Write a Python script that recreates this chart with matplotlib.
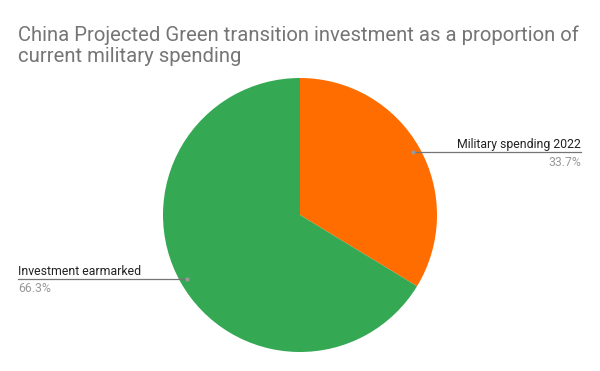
import matplotlib.pyplot as plt

TITLE = "China Projected Green transition investment as a proportion of\ncurrent military spending"
LABELS = ["Military spending 2022", "Investment earmarked"]
SHARES = [33.7, 66.3]
COLORS = ["#ff6d01", "#34a853"]

W, H = 600, 371
plt.rcParams["font.family"] = ["Roboto", "DejaVu Sans"]

fig = plt.figure(figsize=(W / 100, H / 100), dpi=100)

# pie: center (300, 215) px, radius 137 px
cx, cy, r = 300, 215, 137
ax = fig.add_axes([(cx - r) / W, (H - cy - r) / H, 2 * r / W, 2 * r / H])
ax.pie(SHARES, colors=COLORS, startangle=90, counterclock=False,
       wedgeprops=dict(linewidth=0))
ax.set_xlim(-1, 1)
ax.set_ylim(-1, 1)
ax.set_aspect("equal")


def fx(px):
    return px / W


def fy(py):
    return 1 - py / H


fig.text(fx(18), fy(62), TITLE, fontsize=14.6, color="#757575",
         ha="left", va="baseline", linespacing=1.15)

# label callouts (dot on slice, line to text)
line_gray = "#757575"
# right: Military spending
fig.add_artist(plt.Line2D([fx(413), fx(581)], [fy(152), fy(152)],
                          color=line_gray, linewidth=0.9))
fig.add_artist(plt.Line2D([fx(413)], [fy(152)], marker="o", markersize=3,
                          color="#999999", markeredgewidth=0))
fig.text(fx(581), fy(148), LABELS[0], fontsize=8.8, color="#222222",
         ha="right", va="baseline")
fig.text(fx(581), fy(166), f"{SHARES[0]}%", fontsize=8.8, color="#999999",
         ha="right", va="baseline")

# left: Investment earmarked
fig.add_artist(plt.Line2D([fx(18), fx(187)], [fy(279), fy(279)],
                          color=line_gray, linewidth=0.9))
fig.add_artist(plt.Line2D([fx(187)], [fy(279)], marker="o", markersize=3,
                          color="#999999", markeredgewidth=0))
fig.text(fx(18), fy(275), LABELS[1], fontsize=8.8, color="#222222",
         ha="left", va="baseline")
fig.text(fx(18), fy(292), f"{SHARES[1]}%", fontsize=8.8, color="#999999",
         ha="left", va="baseline")

fig.savefig("out.png", dpi=100, facecolor="white")
